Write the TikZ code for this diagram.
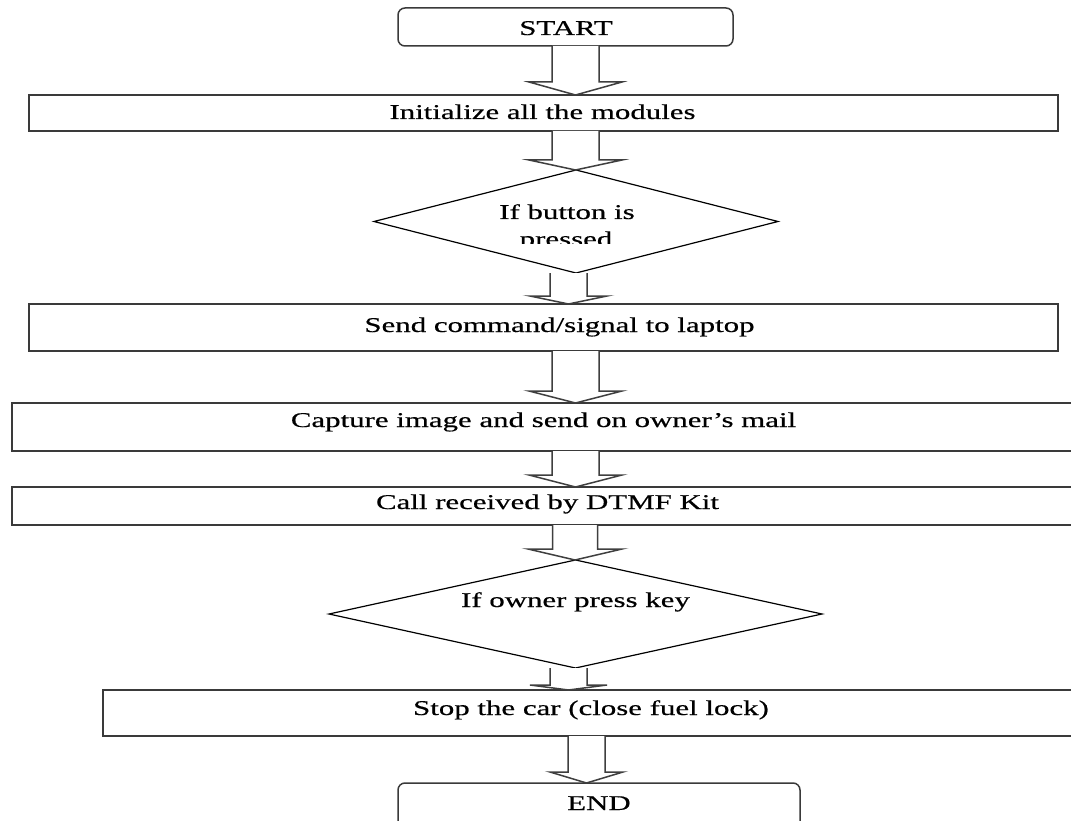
\documentclass[tikz,border=0pt]{standalone}
\usepackage{fontspec}
\setmainfont[FakeStretch=1.47,FakeBold=0.5]{Liberation Serif}
\usetikzlibrary{shapes.geometric,calc}
\definecolor{boxgray}{HTML}{3A3A3A}
\definecolor{arrgray}{HTML}{3F3F3F}
\tikzset{
  procbox/.style={draw=boxgray, line width=1.8pt, inner sep=0pt, outer sep=0pt},
  termbox/.style={procbox, line width=1.5pt, rounded corners=7pt},
  decbox/.style={draw=black, line width=1.2pt, diamond, inner sep=0pt, outer sep=0pt},
  label text/.style={anchor=base, inner sep=0pt, font=\fontsize{21}{24}\selectfont},
  barrow/.style={draw=arrgray, line width=1.5pt, fill=white, line join=miter}
}
\newcommand{\blockarr}[6]{%
  \draw[barrow] let \p1=(#1 -| #3), \p2=(#2 -| #3) in
    (\x1-#4pt,\y1) -- (\x1-#4pt,\y2+#6pt) -- (\x1-#5pt,\y2+#6pt) -- (\x2,\y2)
    -- (\x1+#5pt,\y2+#6pt) -- (\x1+#4pt,\y2+#6pt) -- (\x1+#4pt,\y1);}
\begin{document}
\begin{tikzpicture}[x=1pt,y=-1pt]
\clip (0,0) rectangle (1071,821);
\fill[white] (0,0) rectangle (1071,821);

% boxes
\node[termbox, minimum width=335pt, minimum height=38pt] (start) at (565.5,27) {};
\node[procbox, minimum width=1029pt, minimum height=36pt] (b1) at (543.5,113) {};
\node[decbox, minimum width=404pt, minimum height=103pt] (d1) at (576,221.5) {};
\node[procbox, minimum width=1029pt, minimum height=47pt] (b2) at (543.5,327.5) {};
\node[procbox, minimum width=1078pt, minimum height=48pt] (b3) at (551,427) {};
\node[procbox, minimum width=1078pt, minimum height=38pt] (b4) at (551,506) {};
\node[decbox, minimum width=493pt, minimum height=108pt] (d2) at (575.5,614) {};
\node[procbox, minimum width=987pt, minimum height=46pt] (b5) at (596.5,713) {};
\node[termbox, minimum width=402pt, minimum height=52pt] (end) at (599,809) {};

% arrow axes
\coordinate (ax1) at (575.5,0);
\coordinate (ax2) at (568.5,0);
\coordinate (ax3) at (575,0);
\coordinate (ax4) at (586.5,0);

% block arrows
\blockarr{start.south}{b1.north}{ax1}{23.5}{46.5}{13}
\blockarr{b1.south}{d1.north}{ax1}{23.5}{46.5}{10}
\blockarr{d1.south}{b2.north}{ax2}{18.5}{38.5}{8}
\blockarr{b2.south}{b3.north}{ax1}{23.5}{46.5}{12}
\blockarr{b3.south}{b4.north}{ax1}{23.5}{46.5}{12}
\blockarr{b4.south}{d2.north}{ax3}{22.5}{47}{11}
\blockarr{d2.south}{b5.north}{ax2}{18.5}{38.5}{5}
\blockarr{b5.south}{end.north}{ax4}{18.5}{36.5}{11}

% texts
\node[label text] (tstart) at (566,35) {START};
\node[label text] (t1) at (542.5,119) {Initialize all the modules};
\node[label text] (td1a) at (567,219) {If button is};
\begin{scope}
  \clip (374,225) rectangle (778,244);
  \node[label text] (td1b) at (566,246) {pressed};
\end{scope}
\node[label text] (t2) at (559.5,332) {Send command/signal to laptop};
\node[label text] (t3) at (543.5,427) {Capture image and send on owner’s mail};
\node[label text] (t4) at (547.5,509) {Call received by DTMF Kit};
\node[label text] (td2) at (575.5,607) {If owner press key};
\node[label text] (t5) at (591,715) {Stop the car (close fuel lock)};
\node[label text] (tend) at (599,810) {END};
\end{tikzpicture}
\end{document}
